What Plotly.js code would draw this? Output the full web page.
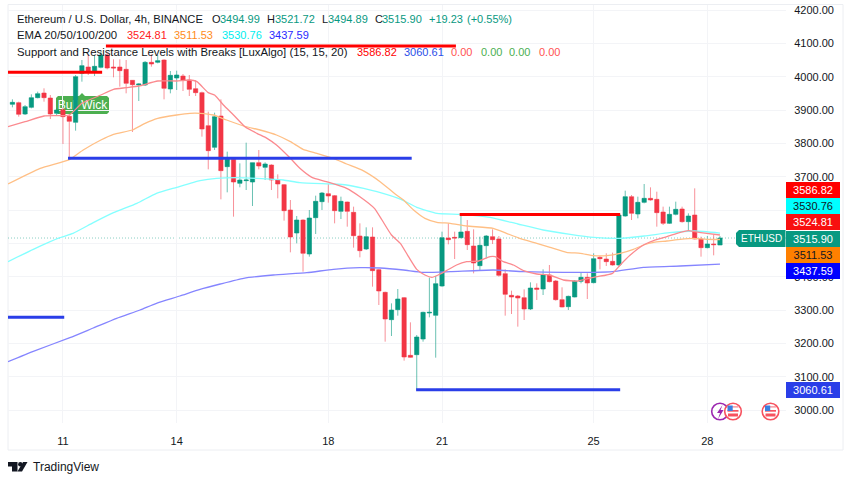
<!DOCTYPE html>
<html><head><meta charset="utf-8">
<script src="https://cdn.plot.ly/plotly-3.0.1.min.js"></script>
<style>html,body{margin:0;padding:0;background:#fff}#c{width:852px;height:485px}</style>
</head><body><div id="c"></div>
<script>
// ---- candles (bar index = array index) ----
const opens=[3917,3922,3888,3908,3937,3951,3936,3890,3901,3881,3863,4010,4029,4015,4028,4065,4029,4029,4022,3989,3975,3975,4043,4043,4050,3963,3996,4002,3990,3964,3952,3853,3788,3882,3730,3752,3680,3688,3684,3742,3728,3735,3690,3676,3600,3531,3570,3468,3577,3625,3649,3643,3596,3624,3593,3522,3483,3519,3421,3353,3271,3301,3337,3164,3166,3213,3291,3284,3372,3516,3518,3517,3536,3492,3433,3493,3520,3513,3409,3344,3342,3337,3303,3366,3363,3405,3387,3331,3310,3339,3386,3398,3382,3458,3453,3446,3435,3582,3640,3588,3623,3635,3632,3594,3560,3587,3603,3565,3585,3513,3487,3498,3494.99];
const highs=[3932,3925,3915,3947,3955,3965,3945,3905,3908,3887,4005,4050,4065,4065,4075,4075,4052,4052,4050,3990,3980,4047,4067,4065,4052,4017,4018,4008,4005,3990,3955,3895,3892,3932,3775,3755,3740,3802,3742,3780,3743,3737,3707,3678,3630,3582,3572,3600,3643,3654,3678,3645,3640,3625,3610,3560,3548,3548,3423,3355,3320,3363,3339,3263,3225,3295,3397,3402,3535,3560,3535,3587,3570,3542,3520,3525,3542,3522,3422,3358,3345,3362,3383,3380,3422,3435,3390,3368,3343,3390,3412,3410,3470,3462,3470,3472,3587,3658,3645,3640,3678,3668,3655,3610,3610,3625,3610,3590,3665,3520,3522,3525,3521.72];
const lows=[3908,3880,3885,3905,3935,3925,3873,3885,3798,3752,3838,3985,4005,4002,4025,4022,3998,3970,3950,3834,3927,3972,4030,4040,3932,3950,3960,3957,3942,3942,3820,3722,3780,3632,3653,3580,3668,3660,3612,3722,3690,3660,3635,3568,3473,3500,3415,3460,3528,3600,3622,3560,3573,3550,3487,3458,3480,3370,3315,3205,3222,3283,3148,3157,3060,3205,3278,3157,3370,3497,3453,3515,3480,3410,3420,3455,3498,3400,3283,3288,3250,3270,3300,3330,3345,3383,3328,3308,3300,3338,3380,3333,3380,3422,3432,3433,3433,3580,3570,3575,3620,3628,3550,3555,3558,3584,3562,3535,3512,3460,3485,3464,3494.89];
const closes=[3923,3887,3910,3937,3949,3937,3888,3900,3880,3866,4000,4033,4015,4031,4065,4026,4026,4018,3980,3976,3978,4043,4038,4048,3965,4004,4005,3990,3962,3952,3843,3778,3880,3718,3752,3684,3690,3690,3742,3732,3738,3690,3678,3598,3519,3570,3470,3576,3626,3651,3642,3598,3626,3596,3523,3478,3520,3418,3357,3273,3300,3333,3159,3158,3219,3293,3293,3379,3517,3511,3516,3534,3496,3441,3494,3522,3511,3404,3347,3339,3336,3303,3366,3362,3405,3385,3331,3309,3341,3387,3398,3381,3454,3454,3445,3435,3585,3640,3590,3623,3635,3630,3592,3560,3587,3602,3565,3582,3513,3487,3498,3496,3515.90];

// ---- moving averages ----
const ema20X=[-0.7,2,5,7,9,11,14,16,18,20,23,26,28,29.2,31,32,33.4,35,36.8,38.7,40.3,41.8,44,45.5,47.4,49.7,52.9,55,57.3,58.5,60,61.4,62.7,64,65.3,66.4,67.4,68.7,70.3,71.9,73.8,75.6,76.4,77.7,79.3,80.9,83,85,87.2,89.5,92,94,95,96.2,97.8,99.9,101.5,103.6,105.2,107,108,109.9,112];
const ema20Y=[3850,3865,3882,3883,3885,3920,3945,3962,3967,3972,3987,3987,3990,3985,3952,3945,3915,3885,3850,3830,3815,3795,3755,3725,3698,3685,3665,3640,3605,3570,3525,3500,3460,3422,3405,3398,3405,3418,3435,3445,3447,3460,3460,3445,3435,3418,3408,3405,3390,3387,3398,3405,3410,3435,3465,3495,3508,3520,3530,3538,3535,3530,3525];
const ema50X=[-0.7,4.4,9.1,11.2,14,16,19,21,23,26,28.1,29.7,31.8,33.9,36.6,39.2,41.8,44,46,48.2,50.8,52.9,55.5,58.2,60.8,61.9,63.5,65.3,67.2,69.3,71.9,76.1,78.2,80.3,83,85.1,87.7,89.9,92,94.1,96.2,98.3,99.9,101.5,103.6,105.7,107.8,109.9,112];
const ema50Y=[3678,3725,3752,3780,3810,3827,3840,3860,3875,3885,3890,3890,3885,3870,3852,3840,3825,3805,3782,3770,3755,3738,3718,3685,3645,3630,3600,3575,3563,3560,3552,3545,3530,3515,3500,3488,3473,3470,3463,3463,3470,3482,3495,3503,3507,3512,3515,3512,3511.53];
const ema100X=[-0.7,3.3,7.5,9.6,12.8,16,19.7,22.8,26,29.7,32.3,35.5,38.7,42.9,45.5,50.8,52.9,55.6,57.7,61.5,64,67.2,70.9,75.6,80,84,88.3,92,96,100,104,108,112];
const ema100Y=[3445,3482,3517,3530,3562,3592,3620,3650,3668,3688,3695,3697,3695,3690,3682,3678,3675,3665,3655,3632,3608,3590,3587,3578,3558,3540,3527,3518,3515,3522,3532,3537,3530.76];
const ema200X=[-0.7,3.3,9.1,12.8,16.5,20.2,22.8,26.5,29.7,32.9,36.6,41.3,46.6,50.8,55,58.2,61.9,65,69.3,76.1,80.9,87.2,92,95,99.9,105.7,112];
const ema200Y=[3145,3176,3217,3246,3275,3300,3320,3342,3362,3378,3395,3405,3412,3422,3427,3426,3420,3413,3415,3420,3415,3413,3413,3415,3428,3432,3437.59];

// ---- support / resistance segments: [start bar, end bar, price] ----
const resistance=[[-0.7,14.2,4013],[14.8,70.2,4092],[70.8,96.2,3586.82]];
const support=[[-0.7,8.2,3278],[8.8,63.2,3755],[63.9,96.2,3060.61]];

const dayTicks=[8,26,50,68,92,110];
const dayLabels=['11','14','18','21','25','28'];
const priceTicks=[3000,3100,3200,3300,3400,3500,3600,3700,3800,3900,4000,4100,4200];
const priceLabels=['3000.00','3100.00','3200.00','3300.00','3400.00','','','3700.00','3800.00','3900.00','4000.00','4100.00','4200.00'];
const lastClose=3515.90;

// ---- text ----
const FONT='"Liberation Sans", Arial, sans-serif';
const INK='#131722',UP='#089981',DOWN='#f23645';
const headerChunks=[
 ['Ethereum / U.S. Dollar, 4h, BINANCE',16,19,INK,11.2],['O',211,19,INK,11],['3494.99',219,19,UP,11],['H',266,19,INK,11],['3521.72',274,19,UP,11],
 ['L',321,19,INK,11],['3494.89',327,19,UP,11],['C',374,19,INK,11],['3515.90',381,19,UP,11],['+19.23',428,19,UP,11],['(+0.55%)',466,19,UP,11],
 ['EMA 20/50/100/200',16,35.5,INK,11.4],['3524.81',126,35.5,'#ff2222',11],['3511.53',173,35.5,'#ff8c1a',11],['3530.76',221,35.5,'#00eeee',11],['3437.59',268,35.5,'#2a2aff',11],
 ['Support and Resistance Levels with Breaks [LuxAlgo] (15, 15, 20)',16,52,INK,11.35],['3586.82',356,52,'#ff0000',11],['3060.61',403,52,'#2a4ee8',11],
 ['0.00',450,52,'#ff5252',11],['0.00',480,52,'#4caf50',11],['0.00',508,52,'#4caf50',11],['0.00',538,52,'#ff5252',11]];
const priceBadges=[
 ['3586.82',189.5,'#ff0000','#ffffff'],['3530.76',206,'#00ffff',INK],['3524.81',222.3,'#f80f0f','#ffffff'],
 ['3515.90',238.5,UP,'#ffffff'],['3511.53',254.8,'#ff8000',INK],['3437.59',271,'#0000ff','#ffffff'],['3060.61',390.3,'#2a3ee8','#ffffff']];

// ---- layout helpers (pixels to paper) ----
const L=8,R=786,T=5,B=423;
const fx=p=>(p-L)/(R-L), fy=p=>(B-p)/(B-T);
const P=(pts,close=true)=>pts.map((q,i)=>(i?'L':'M')+fx(q[0])+','+fy(q[1])).join(' ')+(close?' Z':'');
const pshape=(pts,fill,extra={})=>Object.assign({type:'path',xref:'paper',yref:'paper',path:P(pts),fillcolor:fill,line:{width:0},layer:'above'},extra);
const circ=(cx,cy,r,fill,col,w)=>({type:'circle',xref:'paper',yref:'paper',x0:fx(cx-r),x1:fx(cx+r),y0:fy(cy+r),y1:fy(cy-r),fillcolor:fill,line:{color:col,width:w},layer:'above'});
const rect=(x0,y0,x1,y1,fill)=>({type:'rect',xref:'paper',yref:'paper',x0:fx(x0),x1:fx(x1),y0:fy(y1),y1:fy(y0),fillcolor:fill,line:{width:0},layer:'above'});
function flag(cx,cy){
  const s=[circ(cx,cy,8.3,'#ffffff','#f7525f',1.6)];
  s.push(rect(cx-5.5,cy-5.5,cx+5.5,cy-3.8,'#f7a6ad'),rect(cx-5.5,cy-1.5,cx+5.5,cy+0.2,'#f7525f'),rect(cx-5,cy+2,cx+5,cy+5,'#f7525f'));
  s.push(rect(cx-5.5,cy-6,cx-0.3,cy-0.5,'#3a7fe0'));
  return s;
}

// ---- traces ----
const bars=opens.map((_,i)=>i);
const emaLine=(x,y,color)=>({type:'scatter',mode:'lines',x,y,line:{color,width:1.3,shape:'spline',smoothing:0.5},hoverinfo:'skip'});
const levelLine=(seg,color)=>({type:'scatter',mode:'lines',x:[seg[0],seg[1]],y:[seg[2],seg[2]],line:{color,width:3},hoverinfo:'skip'});
const traces=[
 {type:'candlestick',x:bars,open:opens,high:highs,low:lows,close:closes,whiskerwidth:0,
  increasing:{line:{color:'rgba(8,153,129,0.6)',width:1},fillcolor:UP},
  decreasing:{line:{color:'rgba(242,54,69,0.55)',width:1},fillcolor:DOWN}},
 emaLine(ema200X,ema200Y,'#8585ff'),
 emaLine(ema100X,ema100Y,'#85ffff'),
 emaLine(ema50X,ema50Y,'#ffbf85'),
 emaLine(ema20X,ema20Y,'#fb8a8f'),
 ...resistance.map(s=>levelLine(s,'#ff0000')),
 ...support.map(s=>levelLine(s,'#2a3ee8'))
];

// ---- annotations ----
const annotations=[];
headerChunks.forEach(c=>annotations.push({xref:'paper',yref:'paper',x:fx(c[1]),y:fy(c[2]),xanchor:'left',yanchor:'middle',showarrow:false,text:c[0],font:{family:FONT,size:c[4],color:c[3]},borderpad:0}));
priceBadges.forEach(b=>annotations.push({xref:'paper',yref:'paper',x:fx(786),y:fy(b[1]),xanchor:'left',yanchor:'middle',showarrow:false,text:b[0],width:54,height:16,align:'center',valign:'middle',bgcolor:b[2],borderpad:0,borderwidth:0,font:{family:FONT,size:11,color:b[3]}}));
annotations.push({xref:'paper',yref:'paper',x:fx(761),y:fy(238.5),xanchor:'center',yanchor:'middle',showarrow:false,text:'ETHUSD',font:{family:FONT,size:10,color:'#ffffff'}});
annotations.push({xref:'paper',yref:'paper',x:fx(31),y:fy(467),xanchor:'left',yanchor:'middle',showarrow:false,text:'TradingView',font:{family:FONT,size:12,color:INK}});

// ---- shapes ----
const shapes=[
 {type:'rect',xref:'paper',yref:'paper',x0:fx(8),x1:fx(843),y0:fy(450),y1:fy(4.5),line:{color:'#eceef2',width:1},fillcolor:'rgba(0,0,0,0)',layer:'below'},
 {type:'line',xref:'paper',yref:'y',x0:0,x1:1,y0:lastClose,y1:lastClose,line:{color:'rgba(8,153,129,0.6)',width:0.8,dash:'1px,2px'},layer:'below'},
 pshape([[58,96],[79,96],[82,93],[85,96],[107,96],[109,98],[109,112],[107,114],[58,114],[56,112],[56,98]],'#4caf50',
   {layer:'below',label:{text:'Bull Wick',textposition:'middle center',font:{family:FONT,size:12,color:'#ffffff'}}}),
 pshape([[739,230],[785.5,230],[785.5,247],[739,247],[736,244],[736,233]],UP),
 // logo
 pshape([[8,462],[17.5,462],[17.5,471.5],[12,471.5],[12,466.5],[8,466.5]],INK),
 circ(20.3,464.2,2.2,INK,INK,0),
 pshape([[23,462],[27.5,462],[22,471.5],[17.5,471.5]],INK),
 // event icons
 circ(720,411.5,8.3,'rgba(255,255,255,0)','#9c27b0',1.6),
 pshape([[722.5,405],[717,413],[720,413],[718,419],[723.5,410],[720.6,410]],'#9c27b0'),
 ...flag(733,411.5),
 ...flag(770.5,411.5)
];

const layout={
 width:852,height:485,paper_bgcolor:'#ffffff',plot_bgcolor:'#ffffff',showlegend:false,
 margin:{l:L,r:852-R,t:T,b:485-B},
 font:{family:FONT,size:11,color:INK},
 boxgap:0.2,boxgroupgap:0.15,
 xaxis:{type:'linear',range:[-0.70,122.45],tickmode:'array',tickvals:dayTicks,ticktext:dayLabels,showgrid:true,gridcolor:'#f3f4f7',gridwidth:1,
        zeroline:false,showline:false,ticks:'outside',ticklen:8,tickcolor:'rgba(0,0,0,0)',rangeslider:{visible:false},tickfont:{family:FONT,size:11,color:INK}},
 yaxis:{side:'right',range:[2961,4215],tickmode:'array',tickvals:priceTicks,ticktext:priceLabels,showgrid:true,gridcolor:'#f3f4f7',gridwidth:1,
        zeroline:false,showline:false,ticks:'outside',ticklen:5,tickcolor:'rgba(0,0,0,0)',tickfont:{family:FONT,size:11,color:INK}},
 annotations,shapes
};
Plotly.newPlot('c',traces,layout,{staticPlot:true,displayModeBar:false});
</script></body></html>
